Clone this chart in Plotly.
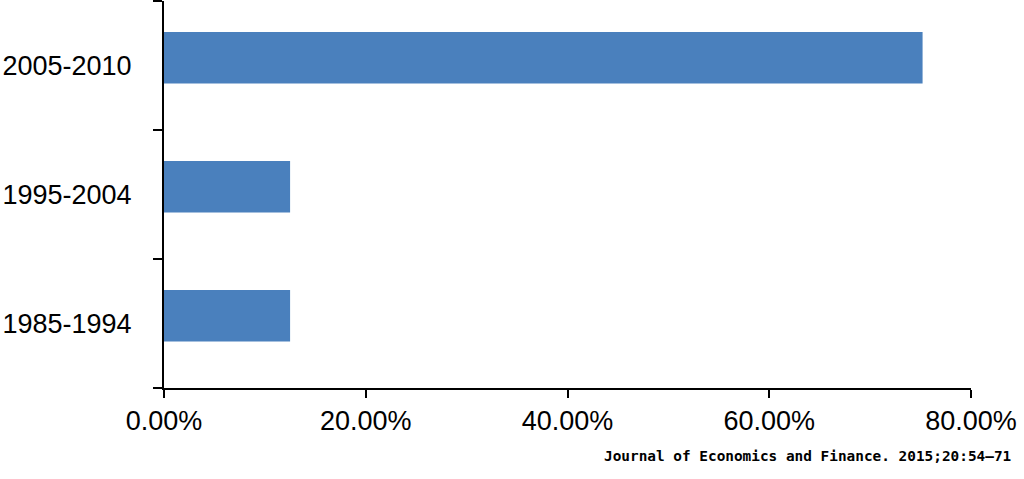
import plotly.graph_objects as go

periods = ['1985-1994', '1995-2004', '2005-2010']
shares = [0.125, 0.125, 0.752]
x_ticks = [0, 0.2, 0.4, 0.6, 0.8]

fig = go.Figure(go.Bar(
    x=shares,
    y=periods,
    orientation='h',
    marker=dict(color='#4a80bd', line=dict(width=0)),
    width=0.4,
    offset=-0.14,
))

fig.update_layout(
    width=1024,
    height=479,
    margin=dict(l=164, r=53, t=1, b=91),
    paper_bgcolor='white',
    plot_bgcolor='white',
    font=dict(family='Liberation Sans, Arial', size=27, color='black'),
    showlegend=False,
)

fig.update_xaxes(
    range=[0, 0.8],
    tickvals=x_ticks,
    tickformat='.2%',
    showgrid=False,
    zeroline=False,
    showline=True,
    linecolor='black',
    linewidth=2,
    ticks='outside',
    ticklen=8,
    tickwidth=2,
    tickcolor='black',
    ticklabelstandoff=0,
    automargin=False,
)

fig.update_yaxes(
    type='category',
    categoryorder='array',
    categoryarray=periods,
    range=[-0.5, 2.5],
    tickson='boundaries',
    showgrid=False,
    zeroline=False,
    showline=True,
    linecolor='black',
    linewidth=2,
    ticks='outside',
    ticklen=9,
    tickwidth=2,
    tickcolor='black',
    ticklabelstandoff=25,
    automargin=False,
)

fig.add_annotation(
    text='<b>Journal of Economics and Finance. 2015;20:54–71</b>',
    xref='paper', yref='paper',
    x=1, y=0,
    xanchor='right', yanchor='top',
    xshift=42, yshift=-58,
    showarrow=False,
    font=dict(family='DejaVu Sans Mono', size=14.4, color='black'),
)

# page body has a default 8px margin, drop it so the figure sits at 0,0
fig.write_html('out.html', config={'displayModeBar': False},
               post_script="document.body.style.margin='0';")
